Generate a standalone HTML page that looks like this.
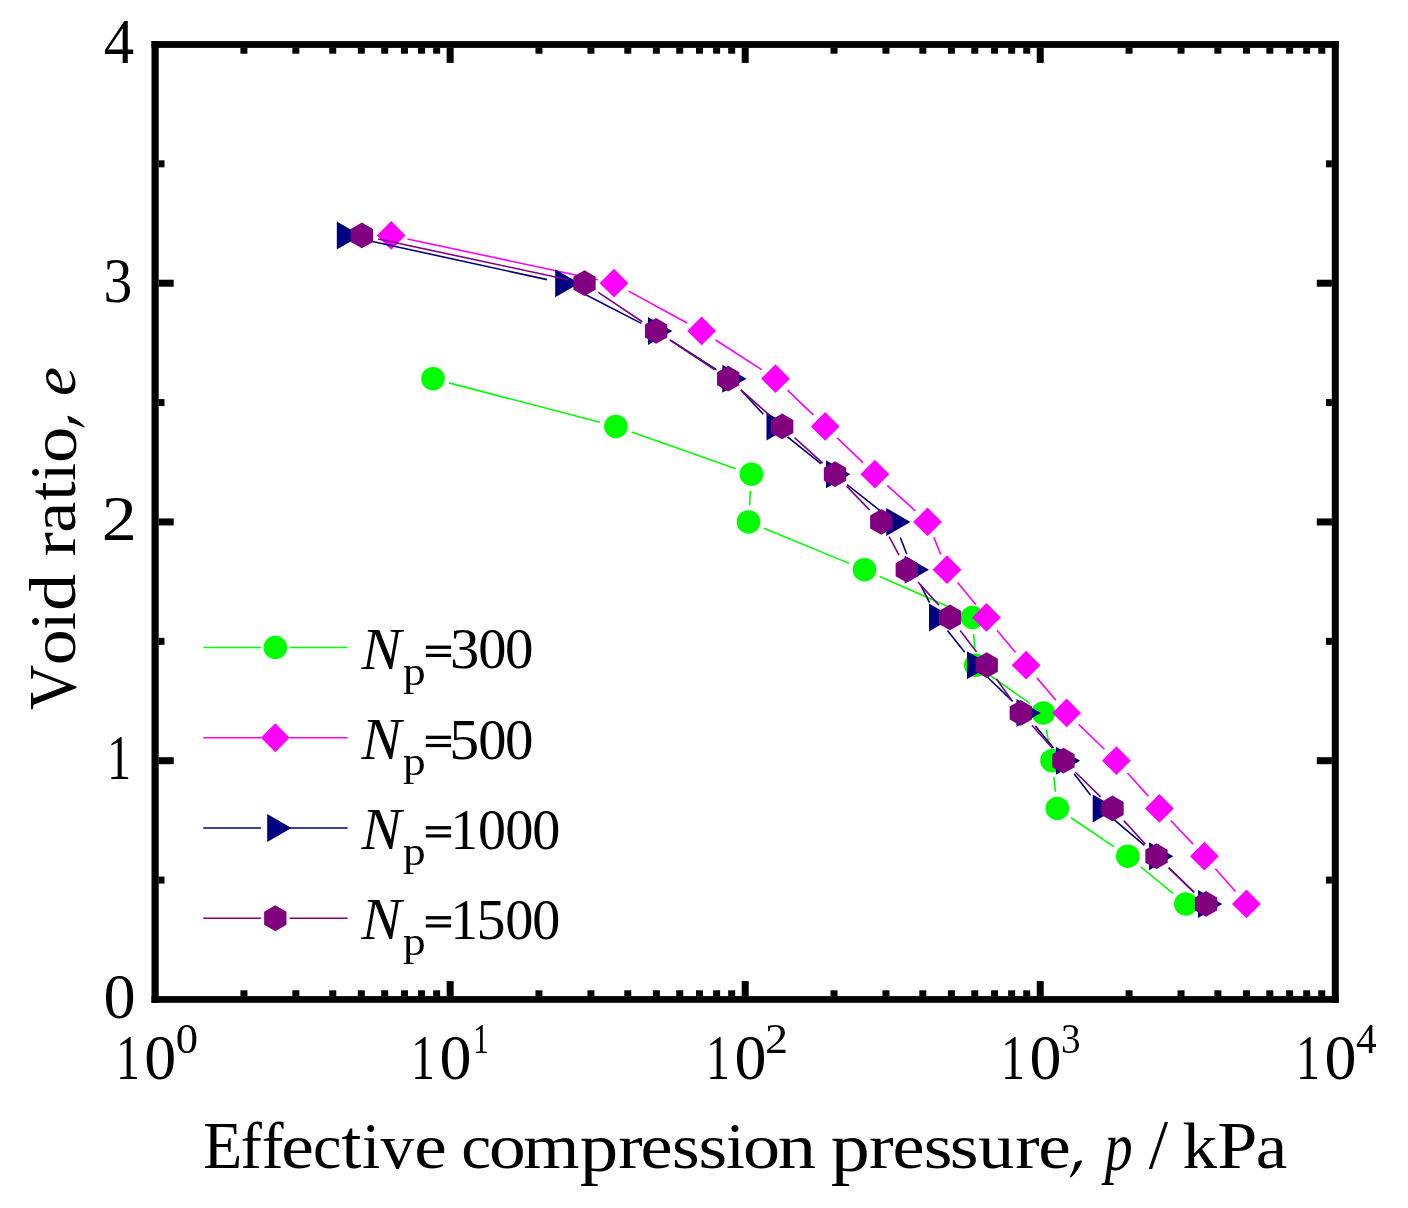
<!DOCTYPE html>
<html><head><meta charset="utf-8"><style>
html,body{margin:0;padding:0;background:#fff;}
svg{display:block;will-change:transform;}
text{font-family:"Liberation Serif",serif;font-kerning:none;font-variant-ligatures:none;}
</style></head><body>
<svg width="1408" height="1208" viewBox="0 0 1408 1208">
<rect width="1408" height="1208" fill="#fff"/>
<path d="M449.06 382.89L599.84 422.26M631.56 431.97L735.74 468.68M750.39 490.77L749.51 505.38M763.85 528.27L849.15 563.38M879.68 576.41L957.42 610.74M973.71 634.01L974.69 648.64M989.35 674.79L1029.75 703.36M1046.28 729.28L1049.02 744.37M1053.83 777.20L1055.47 791.95M1071.04 817.76L1114.06 846.89M1140.62 866.75L1172.98 893.40" stroke="#00ff00" stroke-width="1.6" fill="none"/>
<circle cx="433.00" cy="378.70" r="11.8" fill="#00ff00"/>
<circle cx="615.90" cy="426.45" r="11.8" fill="#00ff00"/>
<circle cx="751.40" cy="474.20" r="11.8" fill="#00ff00"/>
<circle cx="748.50" cy="521.95" r="11.8" fill="#00ff00"/>
<circle cx="864.50" cy="569.70" r="11.8" fill="#00ff00"/>
<circle cx="972.60" cy="617.45" r="11.8" fill="#00ff00"/>
<circle cx="975.80" cy="665.20" r="11.8" fill="#00ff00"/>
<circle cx="1043.30" cy="712.95" r="11.8" fill="#00ff00"/>
<circle cx="1052.00" cy="760.70" r="11.8" fill="#00ff00"/>
<circle cx="1057.30" cy="808.45" r="11.8" fill="#00ff00"/>
<circle cx="1127.80" cy="856.20" r="11.8" fill="#00ff00"/>
<circle cx="1185.80" cy="903.95" r="11.8" fill="#00ff00"/>
<path d="M407.43 238.93L597.77 279.72M628.58 291.14L687.02 323.01M715.54 339.96L761.56 369.69M787.47 390.20L813.23 414.95M837.17 437.95L862.93 462.70M887.19 485.36L915.21 510.79M933.78 537.32L940.72 554.33M957.56 582.50L975.84 604.65M997.01 630.21L1015.49 652.44M1036.84 677.86L1055.86 700.29M1078.58 724.44L1104.42 749.21M1127.51 773.04L1148.29 796.11M1170.78 820.53L1193.02 844.12M1215.36 868.66L1235.44 891.49" stroke="#ff00ff" stroke-width="1.6" fill="none"/>
<path d="M391.20 221.05L405.60 235.45L391.20 249.85L376.80 235.45Z" fill="#ff00ff"/>
<path d="M614.00 268.80L628.40 283.20L614.00 297.60L599.60 283.20Z" fill="#ff00ff"/>
<path d="M701.60 316.55L716.00 330.95L701.60 345.35L687.20 330.95Z" fill="#ff00ff"/>
<path d="M775.50 364.30L789.90 378.70L775.50 393.10L761.10 378.70Z" fill="#ff00ff"/>
<path d="M825.20 412.05L839.60 426.45L825.20 440.85L810.80 426.45Z" fill="#ff00ff"/>
<path d="M874.90 459.80L889.30 474.20L874.90 488.60L860.50 474.20Z" fill="#ff00ff"/>
<path d="M927.50 507.55L941.90 521.95L927.50 536.35L913.10 521.95Z" fill="#ff00ff"/>
<path d="M947.00 555.30L961.40 569.70L947.00 584.10L932.60 569.70Z" fill="#ff00ff"/>
<path d="M986.40 603.05L1000.80 617.45L986.40 631.85L972.00 617.45Z" fill="#ff00ff"/>
<path d="M1026.10 650.80L1040.50 665.20L1026.10 679.60L1011.70 665.20Z" fill="#ff00ff"/>
<path d="M1066.60 698.55L1081.00 712.95L1066.60 727.35L1052.20 712.95Z" fill="#ff00ff"/>
<path d="M1116.40 746.30L1130.80 760.70L1116.40 775.10L1102.00 760.70Z" fill="#ff00ff"/>
<path d="M1159.40 794.05L1173.80 808.45L1159.40 822.85L1145.00 808.45Z" fill="#ff00ff"/>
<path d="M1204.40 841.80L1218.80 856.20L1204.40 870.60L1190.00 856.20Z" fill="#ff00ff"/>
<path d="M1246.40 889.55L1260.80 903.95L1246.40 918.35L1232.00 903.95Z" fill="#ff00ff"/>
<path d="M361.12 239.00L547.08 279.65M578.06 290.80L641.34 323.35M670.06 339.92L716.44 369.73M741.68 390.88L763.32 414.27M787.55 436.84L821.15 463.81M847.11 484.52L881.29 511.63M900.30 537.43L906.80 554.22M920.33 584.49L929.57 602.66M947.44 630.44L964.76 652.21M987.05 676.72L1012.65 701.43M1035.16 725.75L1053.44 747.90M1074.13 773.85L1090.67 795.30M1113.46 819.19L1144.44 845.46M1168.99 867.79L1194.21 892.36" stroke="#000080" stroke-width="1.6" fill="none"/>
<path d="M361.10 235.45L336.80 221.42L336.80 249.48Z" fill="#000080"/>
<path d="M579.50 283.20L555.20 269.17L555.20 297.23Z" fill="#000080"/>
<path d="M672.30 330.95L648.00 316.92L648.00 344.98Z" fill="#000080"/>
<path d="M746.60 378.70L722.30 364.67L722.30 392.73Z" fill="#000080"/>
<path d="M790.80 426.45L766.50 412.42L766.50 440.48Z" fill="#000080"/>
<path d="M850.30 474.20L826.00 460.17L826.00 488.23Z" fill="#000080"/>
<path d="M910.50 521.95L886.20 507.92L886.20 535.98Z" fill="#000080"/>
<path d="M929.00 569.70L904.70 555.67L904.70 583.73Z" fill="#000080"/>
<path d="M953.30 617.45L929.00 603.42L929.00 631.48Z" fill="#000080"/>
<path d="M991.30 665.20L967.00 651.17L967.00 679.23Z" fill="#000080"/>
<path d="M1040.80 712.95L1016.50 698.92L1016.50 726.98Z" fill="#000080"/>
<path d="M1080.20 760.70L1055.90 746.67L1055.90 774.73Z" fill="#000080"/>
<path d="M1117.00 808.45L1092.70 794.42L1092.70 822.48Z" fill="#000080"/>
<path d="M1173.30 856.20L1149.00 842.17L1149.00 870.23Z" fill="#000080"/>
<path d="M1222.30 903.95L1198.00 889.92L1198.00 917.98Z" fill="#000080"/>
<path d="M378.13 238.93L568.27 279.72M598.31 292.41L642.29 321.74M669.94 340.12L714.36 369.53M740.64 389.70L769.76 415.45M794.51 437.58L822.69 463.07M846.56 486.12L869.74 510.03M889.12 536.59L898.98 555.06M917.94 582.01L938.86 605.14M960.12 630.61L976.58 652.04M996.35 678.71L1011.15 699.44M1031.87 725.32L1052.43 748.33M1075.39 772.29L1100.61 796.86M1123.75 820.66L1145.25 843.99M1168.45 867.72L1194.05 892.43" stroke="#800080" stroke-width="1.6" fill="none"/>
<path d="M361.90 222.55L350.73 229.00L350.73 241.90L361.90 248.35L373.07 241.90L373.07 229.00Z" fill="#800080"/>
<path d="M584.50 270.30L573.33 276.75L573.33 289.65L584.50 296.10L595.67 289.65L595.67 276.75Z" fill="#800080"/>
<path d="M656.10 318.05L644.93 324.50L644.93 337.40L656.10 343.85L667.27 337.40L667.27 324.50Z" fill="#800080"/>
<path d="M728.20 365.80L717.03 372.25L717.03 385.15L728.20 391.60L739.37 385.15L739.37 372.25Z" fill="#800080"/>
<path d="M782.20 413.55L771.03 420.00L771.03 432.90L782.20 439.35L793.37 432.90L793.37 420.00Z" fill="#800080"/>
<path d="M835.00 461.30L823.83 467.75L823.83 480.65L835.00 487.10L846.17 480.65L846.17 467.75Z" fill="#800080"/>
<path d="M881.30 509.05L870.13 515.50L870.13 528.40L881.30 534.85L892.47 528.40L892.47 515.50Z" fill="#800080"/>
<path d="M906.80 556.80L895.63 563.25L895.63 576.15L906.80 582.60L917.97 576.15L917.97 563.25Z" fill="#800080"/>
<path d="M950.00 604.55L938.83 611.00L938.83 623.90L950.00 630.35L961.17 623.90L961.17 611.00Z" fill="#800080"/>
<path d="M986.70 652.30L975.53 658.75L975.53 671.65L986.70 678.10L997.87 671.65L997.87 658.75Z" fill="#800080"/>
<path d="M1020.80 700.05L1009.63 706.50L1009.63 719.40L1020.80 725.85L1031.97 719.40L1031.97 706.50Z" fill="#800080"/>
<path d="M1063.50 747.80L1052.33 754.25L1052.33 767.15L1063.50 773.60L1074.67 767.15L1074.67 754.25Z" fill="#800080"/>
<path d="M1112.50 795.55L1101.33 802.00L1101.33 814.90L1112.50 821.35L1123.67 814.90L1123.67 802.00Z" fill="#800080"/>
<path d="M1156.50 843.30L1145.33 849.75L1145.33 862.65L1156.50 869.10L1167.67 862.65L1167.67 849.75Z" fill="#800080"/>
<path d="M1206.00 891.05L1194.83 897.50L1194.83 910.40L1206.00 916.85L1217.17 910.40L1217.17 897.50Z" fill="#800080"/>
<g fill="#000"><rect x="151.5" y="41.1" width="7.199999999999989" height="961.6999999999999"/><rect x="1331.8" y="41.1" width="7.0" height="961.6999999999999"/><rect x="151.5" y="41.1" width="1187.3" height="6.799999999999997"/><rect x="151.5" y="996.1" width="1187.3" height="6.699999999999932"/><rect x="240.42" y="990.30" width="7.0" height="5.8"/><rect x="240.42" y="47.90" width="7.0" height="5.8"/><rect x="292.37" y="990.30" width="7.0" height="5.8"/><rect x="292.37" y="47.90" width="7.0" height="5.8"/><rect x="329.24" y="990.30" width="7.0" height="5.8"/><rect x="329.24" y="47.90" width="7.0" height="5.8"/><rect x="357.83" y="990.30" width="7.0" height="5.8"/><rect x="357.83" y="47.90" width="7.0" height="5.8"/><rect x="381.19" y="990.30" width="7.0" height="5.8"/><rect x="381.19" y="47.90" width="7.0" height="5.8"/><rect x="400.95" y="990.30" width="7.0" height="5.8"/><rect x="400.95" y="47.90" width="7.0" height="5.8"/><rect x="418.06" y="990.30" width="7.0" height="5.8"/><rect x="418.06" y="47.90" width="7.0" height="5.8"/><rect x="433.15" y="990.30" width="7.0" height="5.8"/><rect x="433.15" y="47.90" width="7.0" height="5.8"/><rect x="446.65" y="981.10" width="7.0" height="15.0"/><rect x="446.65" y="47.90" width="7.0" height="15.0"/><rect x="535.47" y="990.30" width="7.0" height="5.8"/><rect x="535.47" y="47.90" width="7.0" height="5.8"/><rect x="587.42" y="990.30" width="7.0" height="5.8"/><rect x="587.42" y="47.90" width="7.0" height="5.8"/><rect x="624.29" y="990.30" width="7.0" height="5.8"/><rect x="624.29" y="47.90" width="7.0" height="5.8"/><rect x="652.88" y="990.30" width="7.0" height="5.8"/><rect x="652.88" y="47.90" width="7.0" height="5.8"/><rect x="676.24" y="990.30" width="7.0" height="5.8"/><rect x="676.24" y="47.90" width="7.0" height="5.8"/><rect x="696.00" y="990.30" width="7.0" height="5.8"/><rect x="696.00" y="47.90" width="7.0" height="5.8"/><rect x="713.11" y="990.30" width="7.0" height="5.8"/><rect x="713.11" y="47.90" width="7.0" height="5.8"/><rect x="728.20" y="990.30" width="7.0" height="5.8"/><rect x="728.20" y="47.90" width="7.0" height="5.8"/><rect x="741.70" y="981.10" width="7.0" height="15.0"/><rect x="741.70" y="47.90" width="7.0" height="15.0"/><rect x="830.52" y="990.30" width="7.0" height="5.8"/><rect x="830.52" y="47.90" width="7.0" height="5.8"/><rect x="882.47" y="990.30" width="7.0" height="5.8"/><rect x="882.47" y="47.90" width="7.0" height="5.8"/><rect x="919.34" y="990.30" width="7.0" height="5.8"/><rect x="919.34" y="47.90" width="7.0" height="5.8"/><rect x="947.93" y="990.30" width="7.0" height="5.8"/><rect x="947.93" y="47.90" width="7.0" height="5.8"/><rect x="971.29" y="990.30" width="7.0" height="5.8"/><rect x="971.29" y="47.90" width="7.0" height="5.8"/><rect x="991.05" y="990.30" width="7.0" height="5.8"/><rect x="991.05" y="47.90" width="7.0" height="5.8"/><rect x="1008.16" y="990.30" width="7.0" height="5.8"/><rect x="1008.16" y="47.90" width="7.0" height="5.8"/><rect x="1023.25" y="990.30" width="7.0" height="5.8"/><rect x="1023.25" y="47.90" width="7.0" height="5.8"/><rect x="1036.75" y="981.10" width="7.0" height="15.0"/><rect x="1036.75" y="47.90" width="7.0" height="15.0"/><rect x="1125.57" y="990.30" width="7.0" height="5.8"/><rect x="1125.57" y="47.90" width="7.0" height="5.8"/><rect x="1177.52" y="990.30" width="7.0" height="5.8"/><rect x="1177.52" y="47.90" width="7.0" height="5.8"/><rect x="1214.39" y="990.30" width="7.0" height="5.8"/><rect x="1214.39" y="47.90" width="7.0" height="5.8"/><rect x="1242.98" y="990.30" width="7.0" height="5.8"/><rect x="1242.98" y="47.90" width="7.0" height="5.8"/><rect x="1266.34" y="990.30" width="7.0" height="5.8"/><rect x="1266.34" y="47.90" width="7.0" height="5.8"/><rect x="1286.10" y="990.30" width="7.0" height="5.8"/><rect x="1286.10" y="47.90" width="7.0" height="5.8"/><rect x="1303.21" y="990.30" width="7.0" height="5.8"/><rect x="1303.21" y="47.90" width="7.0" height="5.8"/><rect x="1318.30" y="990.30" width="7.0" height="5.8"/><rect x="1318.30" y="47.90" width="7.0" height="5.8"/><rect x="158.70" y="876.58" width="5.8" height="7.0"/><rect x="1326.00" y="876.58" width="5.8" height="7.0"/><rect x="158.70" y="757.20" width="15.0" height="7.0"/><rect x="1316.80" y="757.20" width="15.0" height="7.0"/><rect x="158.70" y="637.83" width="5.8" height="7.0"/><rect x="1326.00" y="637.83" width="5.8" height="7.0"/><rect x="158.70" y="518.45" width="15.0" height="7.0"/><rect x="1316.80" y="518.45" width="15.0" height="7.0"/><rect x="158.70" y="399.08" width="5.8" height="7.0"/><rect x="1326.00" y="399.08" width="5.8" height="7.0"/><rect x="158.70" y="279.70" width="15.0" height="7.0"/><rect x="1316.80" y="279.70" width="15.0" height="7.0"/><rect x="158.70" y="160.33" width="5.8" height="7.0"/><rect x="1326.00" y="160.33" width="5.8" height="7.0"/></g>
<g fill="#000"><text x="103.56" y="1017.95" font-size="64" textLength="32.09" lengthAdjust="spacingAndGlyphs">0</text><text x="106.88" y="779.2" font-size="64" textLength="24.00" lengthAdjust="spacingAndGlyphs">1</text><text x="101.82" y="540.45" font-size="64" textLength="35.05" lengthAdjust="spacingAndGlyphs">2</text><text x="103.54" y="301.7" font-size="64" textLength="28.81" lengthAdjust="spacingAndGlyphs">3</text><text x="103.76" y="62.95" font-size="64" textLength="30.39" lengthAdjust="spacingAndGlyphs">4</text><text x="115.91" y="1078.9" font-size="64" textLength="23.86" lengthAdjust="spacingAndGlyphs">1</text><text x="144.36" y="1078.9" font-size="64" textLength="31.97" lengthAdjust="spacingAndGlyphs">0</text><text x="175.70" y="1052.9" font-size="42.6" textLength="22.30" lengthAdjust="spacingAndGlyphs">0</text><text x="410.96" y="1078.9" font-size="64" textLength="23.86" lengthAdjust="spacingAndGlyphs">1</text><text x="439.41" y="1078.9" font-size="64" textLength="31.97" lengthAdjust="spacingAndGlyphs">0</text><text x="473.05" y="1052.9" font-size="42.6" textLength="15.91" lengthAdjust="spacingAndGlyphs">1</text><text x="706.01" y="1078.9" font-size="64" textLength="23.86" lengthAdjust="spacingAndGlyphs">1</text><text x="734.46" y="1078.9" font-size="64" textLength="31.97" lengthAdjust="spacingAndGlyphs">0</text><text x="764.97" y="1052.9" font-size="42.6" textLength="23.07" lengthAdjust="spacingAndGlyphs">2</text><text x="1001.06" y="1078.9" font-size="64" textLength="23.86" lengthAdjust="spacingAndGlyphs">1</text><text x="1029.51" y="1078.9" font-size="64" textLength="31.97" lengthAdjust="spacingAndGlyphs">0</text><text x="1060.97" y="1052.9" font-size="42.6" textLength="19.61" lengthAdjust="spacingAndGlyphs">3</text><text x="1296.11" y="1078.9" font-size="64" textLength="23.86" lengthAdjust="spacingAndGlyphs">1</text><text x="1324.56" y="1078.9" font-size="64" textLength="31.97" lengthAdjust="spacingAndGlyphs">0</text><text x="1355.89" y="1052.9" font-size="42.6" textLength="20.65" lengthAdjust="spacingAndGlyphs">4</text></g>
<g fill="#000"><text transform="matrix(0.63695 0 0 0.67656 203.37 1168.20)" font-size="100">E</text><text transform="matrix(0.64186 0 0 0.65616 240.53 1168.20)" font-size="100">f</text><text transform="matrix(0.65510 0 0 0.65616 261.68 1168.20)" font-size="100">f</text><text transform="matrix(0.73490 0 0 0.63831 281.13 1168.18)" font-size="100">e</text><text transform="matrix(0.64000 0 0 0.63831 312.96 1168.18)" font-size="100">c</text><text transform="matrix(0.71699 0 0 0.70362 341.50 1168.11)" font-size="100">t</text><text transform="matrix(0.66024 0 0 0.66152 362.01 1168.20)" font-size="100">i</text><text transform="matrix(0.67200 0 0 0.63573 380.60 1168.18)" font-size="100">v</text><text transform="matrix(0.73220 0 0 0.63831 414.14 1168.18)" font-size="100">e</text><text transform="matrix(0.67467 0 0 0.63831 461.33 1168.18)" font-size="100">c</text><text transform="matrix(0.73379 0 0 0.63831 489.11 1168.18)" font-size="100">o</text><text transform="matrix(0.72314 0 0 0.63881 523.28 1168.20)" font-size="100">m</text><text transform="matrix(0.76884 0 0 0.69582 579.86 1170.89)" font-size="100">p</text><text transform="matrix(0.72978 0 0 0.63881 618.24 1168.20)" font-size="100">r</text><text transform="matrix(0.72139 0 0 0.63831 640.58 1168.18)" font-size="100">e</text><text transform="matrix(0.70831 0 0 0.63831 671.89 1168.18)" font-size="100">s</text><text transform="matrix(0.73715 0 0 0.63831 698.48 1168.18)" font-size="100">s</text><text transform="matrix(0.67706 0 0 0.66152 725.88 1168.20)" font-size="100">i</text><text transform="matrix(0.74087 0 0 0.63831 742.98 1168.18)" font-size="100">o</text><text transform="matrix(0.76638 0 0 0.63881 777.84 1168.20)" font-size="100">n</text><text transform="matrix(0.78008 0 0 0.69582 830.74 1170.89)" font-size="100">p</text><text transform="matrix(0.74293 0 0 0.63881 868.91 1168.20)" font-size="100">r</text><text transform="matrix(0.72139 0 0 0.63831 892.58 1168.18)" font-size="100">e</text><text transform="matrix(0.73715 0 0 0.63831 923.78 1168.18)" font-size="100">s</text><text transform="matrix(0.74036 0 0 0.63831 949.86 1168.18)" font-size="100">s</text><text transform="matrix(0.71744 0 0 0.63573 978.25 1168.18)" font-size="100">u</text><text transform="matrix(0.72978 0 0 0.63881 1015.14 1168.20)" font-size="100">r</text><text transform="matrix(0.73220 0 0 0.63831 1038.34 1168.18)" font-size="100">e</text><text transform="matrix(0.55837 0 0 0.68851 1104.87 1170.14)" font-size="100" font-style="italic">p</text><text transform="matrix(0.69826 0 0 0.69064 1148.70 1168.43)" font-size="100">/</text><text transform="matrix(0.69445 0 0 0.66585 1182.58 1168.20)" font-size="100">k</text><text transform="matrix(0.72029 0 0 0.67503 1217.32 1168.20)" font-size="100">P</text><text transform="matrix(0.70883 0 0 0.63883 1255.71 1168.18)" font-size="100">a</text></g>
<g fill="#000"><text transform="matrix(0 -0.62598 0.67172 0 74.98 709.90)" font-size="100">V</text><text transform="matrix(0 -0.72199 0.63623 0 75.38 665.15)" font-size="100">o</text><text transform="matrix(0 -0.64762 0.65246 0 75.20 629.96)" font-size="100">i</text><text transform="matrix(0 -0.74392 0.65661 0 75.36 611.09)" font-size="100">d</text><text transform="matrix(0 -0.72978 0.63668 0 75.40 556.46)" font-size="100">r</text><text transform="matrix(0 -0.69870 0.63883 0 75.38 532.86)" font-size="100">a</text><text transform="matrix(0 -0.68648 0.69140 0 75.32 500.47)" font-size="100">t</text><text transform="matrix(0 -0.63921 0.65246 0 75.20 480.74)" font-size="100">i</text><text transform="matrix(0 -0.72671 0.64455 0 75.77 462.97)" font-size="100">o</text><text transform="matrix(0 -0.65280 0.60504 0 75.41 396.11)" font-size="100" font-style="italic">e</text></g>
<path d="M1075.1,1162.3 L1081.2,1160.3 Q1082.3,1160.6 1081.9,1161.8 Q1078,1171 1071,1177.6 Q1069.7,1177.6 1070,1176.6 Q1074.5,1168 1075.1,1162.3 Z" fill="#000"/>
<path transform="matrix(0 -0.9767 1 0 -1092.90 1472.63)" d="M1075.1,1162.3 L1081.2,1160.3 Q1082.3,1160.6 1081.9,1161.8 Q1078,1171 1071,1177.6 Q1069.7,1177.6 1070,1176.6 Q1074.5,1168 1075.1,1162.3 Z" fill="#000"/>
<path d="M203.3 647.5L260.90000000000003 647.5M289.7 647.5L347.6 647.5" stroke="#00ff00" stroke-width="1.45"/>
<circle cx="275.30" cy="647.50" r="11.8" fill="#00ff00"/>
<path d="M203.3 737.75L260.90000000000003 737.75M289.7 737.75L347.6 737.75" stroke="#ff00ff" stroke-width="1.45"/>
<path d="M275.30 723.35L289.70 737.75L275.30 752.15L260.90 737.75Z" fill="#ff00ff"/>
<path d="M203.3 828.0L260.90000000000003 828.0M289.7 828.0L347.6 828.0" stroke="#000080" stroke-width="1.45"/>
<path d="M291.50 828.00L267.20 813.97L267.20 842.03Z" fill="#000080"/>
<path d="M203.3 918.25L260.90000000000003 918.25M289.7 918.25L347.6 918.25" stroke="#800080" stroke-width="1.45"/>
<path d="M275.30 905.35L264.13 911.80L264.13 924.70L275.30 931.15L286.47 924.70L286.47 911.80Z" fill="#800080"/>
<g fill="#000"><text transform="matrix(0.59664 0 0 0.58645 361.44 668.80)" font-size="100" font-style="italic">N</text><text transform="matrix(0.45411 0 0 0.40638 402.97 684.95)" font-size="100">p</text><rect x="425.8" y="645.60" width="25.3" height="3.3"/><rect x="425.8" y="653.80" width="25.3" height="3.2"/><text transform="matrix(0.58826 0 0 0.57302 449.99 668.44)" font-size="100">3</text><text transform="matrix(0.56391 0 0 0.56609 478.35 668.45)" font-size="100">0</text><text transform="matrix(0.56863 0 0 0.56609 504.93 668.45)" font-size="100">0</text><text transform="matrix(0.59664 0 0 0.58645 361.44 758.90)" font-size="100" font-style="italic">N</text><text transform="matrix(0.45411 0 0 0.40638 402.97 775.05)" font-size="100">p</text><rect x="425.8" y="735.70" width="25.3" height="3.3"/><rect x="425.8" y="743.90" width="25.3" height="3.2"/><text transform="matrix(0.59826 0 0 0.57332 449.32 758.54)" font-size="100">5</text><text transform="matrix(0.56391 0 0 0.56609 478.35 758.55)" font-size="100">0</text><text transform="matrix(0.56863 0 0 0.56609 504.93 758.55)" font-size="100">0</text><text transform="matrix(0.59664 0 0 0.58645 361.44 849.30)" font-size="100" font-style="italic">N</text><text transform="matrix(0.45411 0 0 0.40638 402.97 865.45)" font-size="100">p</text><rect x="425.8" y="826.10" width="25.3" height="3.3"/><rect x="425.8" y="834.30" width="25.3" height="3.2"/><text transform="matrix(0.54822 0 0 0.56502 450.38 848.90)" font-size="100">1</text><text transform="matrix(0.55919 0 0 0.56609 478.07 848.95)" font-size="100">0</text><text transform="matrix(0.56391 0 0 0.56609 505.25 848.95)" font-size="100">0</text><text transform="matrix(0.56155 0 0 0.56609 532.36 848.95)" font-size="100">0</text><text transform="matrix(0.59664 0 0 0.58645 361.44 939.30)" font-size="100" font-style="italic">N</text><text transform="matrix(0.45411 0 0 0.40638 402.97 955.45)" font-size="100">p</text><rect x="425.8" y="916.10" width="25.3" height="3.3"/><rect x="425.8" y="924.30" width="25.3" height="3.2"/><text transform="matrix(0.54822 0 0 0.56502 450.38 938.90)" font-size="100">1</text><text transform="matrix(0.58089 0 0 0.57332 476.52 938.94)" font-size="100">5</text><text transform="matrix(0.56391 0 0 0.56609 505.25 938.95)" font-size="100">0</text><text transform="matrix(0.56155 0 0 0.56609 532.36 938.95)" font-size="100">0</text></g>
</svg></body></html>
